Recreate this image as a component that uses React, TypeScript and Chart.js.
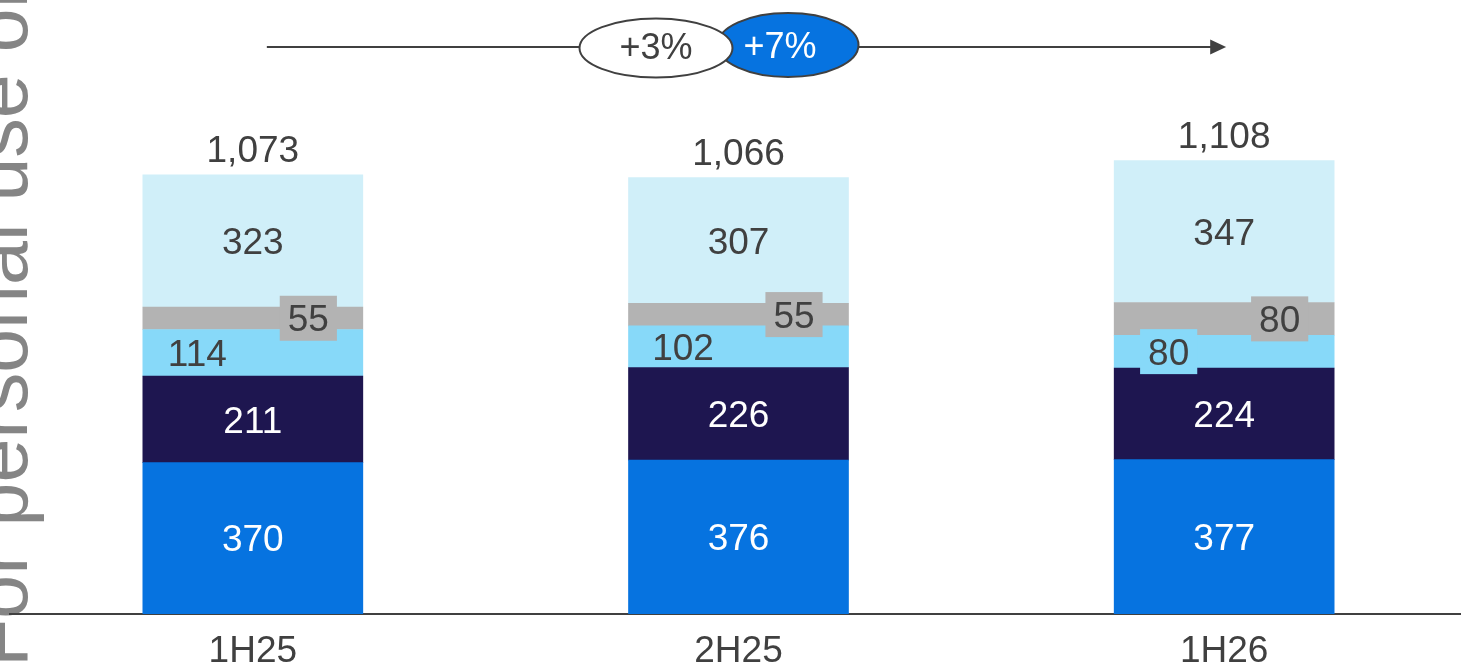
import React, { useEffect, useRef } from 'react';
import { Chart, registerables } from 'chart.js';

Chart.register(...registerables);

const categories = ['1H25', '2H25', '1H26'];
const coreValues = [370, 376, 377];
const navyValues = [211, 226, 224];
const lightValues = [114, 102, 80];
const grayValues = [55, 55, 80];
const paleValues = [323, 307, 347];
const totalLabels = ['1,073', '1,066', '1,108'];
const growthLabels = ['+3%', '+7%'];
const watermarkText = 'For personal use only';

const FONT = '"Liberation Sans", Arial, Helvetica, sans-serif';
const TEXT = '#404040';
const BLUE = '#0673e0';

const overlayPlugin = {
  id: 'overlay',
  beforeDraw(chart: any) {
    const ctx = chart.ctx;
    ctx.save();
    ctx.translate(27, 667);
    ctx.rotate(-Math.PI / 2);
    ctx.font = `79px ${FONT}`;
    ctx.fillStyle = '#858585';
    ctx.textAlign = 'left';
    ctx.textBaseline = 'alphabetic';
    ctx.fillText(watermarkText, 0, 0);
    ctx.restore();
  },
  afterDatasetsDraw(chart: any) {
    const ctx = chart.ctx;
    ctx.save();
    ctx.font = `37px ${FONT}`;
    ctx.textAlign = 'center';
    ctx.textBaseline = 'middle';
    chart.data.datasets.forEach((ds: any, i: number) => {
      const meta = chart.getDatasetMeta(i);
      meta.data.forEach((bar: any, j: number) => {
        const p = bar.getProps(['x', 'y', 'base'], true);
        const cx = p.x + ds.labelDx;
        const cy = (p.y + p.base) / 2;
        const txt = String(ds.data[j]);
        const segH = Math.abs(p.base - p.y);
        if (ds.labelBox && segH < 38) {
          const w = ctx.measureText(txt).width + 16;
          ctx.fillStyle = ds.backgroundColor;
          ctx.fillRect(cx - w / 2, cy - 22.5, w, 45);
        }
        ctx.fillStyle = ds.labelColor;
        ctx.fillText(txt, cx, cy + 3);
      });
    });
    // totals
    const lastMeta = chart.getDatasetMeta(chart.data.datasets.length - 1);
    ctx.fillStyle = TEXT;
    lastMeta.data.forEach((bar: any, j: number) => {
      const p = bar.getProps(['x', 'y'], true);
      ctx.fillText(totalLabels[j], p.x, p.y - 23);
    });
    // arrow
    const xs = chart.scales.x;
    const x0 = xs.getPixelForValue(0);
    const x1 = xs.getPixelForValue(1);
    const x2 = xs.getPixelForValue(2);
    const ay = 47;
    ctx.strokeStyle = TEXT;
    ctx.lineWidth = 2;
    ctx.beginPath();
    ctx.moveTo(x0 + 14, ay);
    ctx.lineTo(x2 - 12, ay);
    ctx.stroke();
    ctx.fillStyle = TEXT;
    ctx.beginPath();
    ctx.moveTo(x2 + 2, ay);
    ctx.lineTo(x2 - 14, ay - 7.5);
    ctx.lineTo(x2 - 14, ay + 7.5);
    ctx.closePath();
    ctx.fill();
    // ellipses
    const blueC = x1 + 49.5;
    const whiteC = x1 - 82.5;
    ctx.lineWidth = 2;
    ctx.beginPath();
    ctx.ellipse(blueC, 45, 70.5, 32, 0, 0, Math.PI * 2);
    ctx.fillStyle = BLUE;
    ctx.fill();
    ctx.strokeStyle = TEXT;
    ctx.stroke();
    ctx.beginPath();
    ctx.ellipse(whiteC, 48, 76.5, 29.5, 0, 0, Math.PI * 2);
    ctx.fillStyle = '#ffffff';
    ctx.fill();
    ctx.stroke();
    ctx.font = `36px ${FONT}`;
    ctx.fillStyle = TEXT;
    ctx.fillText(growthLabels[0], whiteC, 49);
    ctx.fillStyle = '#ffffff';
    ctx.fillText(growthLabels[1], blueC - 8, 48);
    ctx.restore();
  },
};

export default function App() {
  const ref = useRef<HTMLCanvasElement>(null);
  useEffect(() => {
    if (!ref.current) return;
    const chart = new Chart(ref.current, {
      type: 'bar',
      data: {
        labels: categories,
        datasets: [
          { data: coreValues, backgroundColor: BLUE, labelColor: '#ffffff', labelDx: 0, labelBox: false },
          { data: navyValues, backgroundColor: '#1e1650', labelColor: '#ffffff', labelDx: 0, labelBox: false },
          { data: lightValues, backgroundColor: '#87d9f9', labelColor: TEXT, labelDx: -55.5, labelBox: true },
          { data: grayValues, backgroundColor: '#b3b3b3', labelColor: TEXT, labelDx: 55.5, labelBox: true },
          { data: paleValues, backgroundColor: '#d0eff9', labelColor: TEXT, labelDx: 0, labelBox: false },
        ] as any,
      },
      options: {
        responsive: false,
        animation: false,
        layout: { padding: { left: 10, right: 0, top: 0, bottom: 0 } },
        plugins: { legend: { display: false }, tooltip: { enabled: false } },
        datasets: { bar: { barThickness: 220, borderWidth: 0 } },
        scales: {
          x: {
            stacked: true,
            grid: { display: false, drawTicks: false },
            border: { display: true, color: TEXT, width: 2 },
            ticks: { color: TEXT, font: { size: 37, family: FONT }, padding: 16 },
            afterFit: (s: any) => { s.height = 56; },
          },
          y: { stacked: true, display: false, min: 0, max: 1500 },
        },
      } as any,
      plugins: [overlayPlugin],
    });
    return () => chart.destroy();
  }, []);
  return (
    <div style={{ position: 'fixed', left: 0, top: 0, width: 1461, height: 670, overflow: 'hidden', background: '#fff' }}>
      <canvas ref={ref} width={1467} height={670} style={{ display: 'block' }} />
    </div>
  );
}
